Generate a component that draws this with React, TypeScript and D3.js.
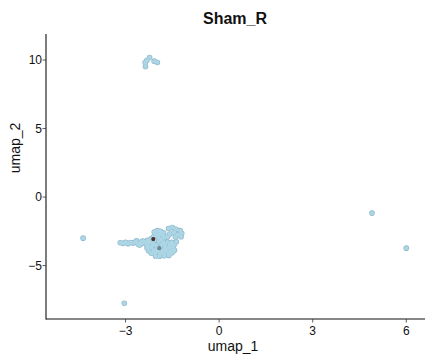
import React from "react";
import * as d3 from "d3";

// UMAP embedding of the Sham_R sample (umap_1, umap_2)
const umap1: number[] = [
  // main cluster: left tail
  -3.17, -3.08, -3.0, -2.92, -2.84, -2.76, -2.68, -2.6, -2.52, -2.46, -2.65, -2.55, -2.45,
  // junction
  -2.38, -2.32, -2.3,
  // upper lobe
  -2.08, -1.98, -1.88, -1.78, -2.02, -1.92, -1.82, -2.1, -1.95, -1.75, -2.18, -1.85,
  // upper-right scatter
  -1.62, -1.5, -1.38, -1.25, -1.2, -1.32, -1.45, -1.58, -1.65, -1.4, -1.22,
  // lower body
  -2.24, -2.11, -1.94, -1.79, -1.66, -1.52, -1.37,
  -2.28, -2.13, -2.01, -1.85, -1.73, -1.57, -1.45,
  -2.31, -2.17, -2.0, -1.89, -1.74, -1.61, -1.48,
  -2.26, -2.09, -1.97, -1.81, -1.69, -1.55, -1.43,
  -2.17, -2.05, -1.89, -1.77, -1.63, -1.51,
  -2.04, -1.91, -1.76, -1.61,
  // upper island
  -2.23, -2.32, -2.37, -2.08, -1.98, -2.36,
  // scattered cells
  -4.36, -3.04, 4.9, 6.0,
];
const umap2: number[] = [
  -3.33, -3.38, -3.3, -3.4, -3.32, -3.36, -3.28, -3.42, -3.3, -3.38, -3.2, -3.5, -3.22,
  -3.3, -3.45, -3.15,
  -2.55, -2.45, -2.5, -2.6, -2.75, -2.7, -2.8, -2.9, -2.95, -2.95, -3.05, -3.1,
  -2.3, -2.22, -2.35, -2.45, -2.65, -2.75, -2.6, -2.7, -2.9, -2.92, -2.9,
  -3.28, -3.32, -3.27, -3.33, -3.29, -3.31, -3.26,
  -3.52, -3.48, -3.53, -3.49, -3.51, -3.47, -3.52,
  -3.71, -3.68, -3.72, -3.69, -3.73, -3.7, -3.68,
  -3.91, -3.88, -3.92, -3.89, -3.9, -3.93, -3.88,
  -4.1, -4.12, -4.08, -4.11, -4.09, -4.07,
  -4.3, -4.32, -4.28, -4.26,
  10.19, 9.97, 9.82, 9.92, 9.82, 9.53,
  -3.0, -7.75, -1.17, -3.73,
];

// a few darker cells sitting inside the main cluster
const darkX: number[] = [-2.11, -1.92];
const darkY: number[] = [-3.07, -3.73];
const darkColors: string[] = ["#4b2a2a", "#6a8794"];

const xTicks: number[] = [-3, 0, 3, 6];
const yTicks: number[] = [-5, 0, 5, 10];

const W = 425;
const H = 360;
const left = 46;
const right = 425;
const top = 34;
const bottom = 319;

export default function App() {
  const x = d3.scaleLinear().domain([-5.55, 6.6]).range([left, right]);
  const y = d3.scaleLinear().domain([-8.9, 11.9]).range([bottom, top]);
  const font = "'Liberation Sans', Arial, sans-serif";
  const pts = umap1.map((v, i) => [v, umap2[i]] as [number, number]);
  const r = 2.2;

  return (
    <svg
      width={W}
      height={H}
      style={{ position: "absolute", left: 0, top: 0, background: "#fff" }}
      fontFamily={font}
    >
      <text x={235} y={24} textAnchor="middle" fontSize={16} fontWeight="bold" fill="#111">
        Sham_R
      </text>

      {/* outline layer first, then fills, so overlapping cells merge into one patch */}
      {pts.map(([a, b], i) => (
        <circle key={"o" + i} cx={x(a)} cy={y(b)} r={r + 0.6} fill="#8cb7c9" />
      ))}
      {pts.map(([a, b], i) => (
        <circle key={"f" + i} cx={x(a)} cy={y(b)} r={r} fill="#acd5e5" />
      ))}
      {darkX.map((a, i) => (
        <circle key={"d" + i} cx={x(a)} cy={y(darkY[i])} r={2.1} fill={darkColors[i]} />
      ))}

      {/* axes */}
      <line x1={left} x2={left} y1={top} y2={bottom + 0.5} stroke="#111" strokeWidth={1.1} />
      <line x1={left} x2={right} y1={bottom} y2={bottom} stroke="#111" strokeWidth={1.1} />

      {xTicks.map((t) => (
        <g key={"x" + t}>
          <line x1={x(t)} x2={x(t)} y1={bottom} y2={bottom + 3.5} stroke="#333" strokeWidth={0.8} />
          <text x={x(t)} y={335} textAnchor="middle" fontSize={12} fill="#111">
            {t < 0 ? "\u2212" + Math.abs(t) : String(t)}
          </text>
        </g>
      ))}
      {yTicks.map((t) => (
        <g key={"y" + t}>
          <line x1={left - 3.5} x2={left} y1={y(t)} y2={y(t)} stroke="#333" strokeWidth={0.8} />
          <text x={left - 4} y={y(t) + 4.3} textAnchor="end" fontSize={12} fill="#111">
            {t < 0 ? "\u2212" + Math.abs(t) : String(t)}
          </text>
        </g>
      ))}

      <text x={233} y={351} textAnchor="middle" fontSize={14} fill="#111">
        umap_1
      </text>
      <text
        transform="translate(20,148) rotate(-90)"
        textAnchor="middle"
        fontSize={14}
        fill="#111"
      >
        umap_2
      </text>
    </svg>
  );
}
